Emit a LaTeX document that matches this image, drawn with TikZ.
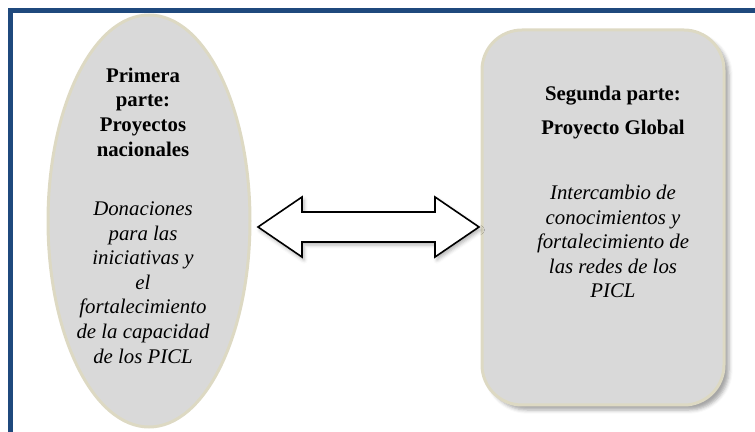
\documentclass[tikz,border=0pt]{standalone}
\usepackage{fontspec}
\setmainfont{Liberation Serif}
\usetikzlibrary{shapes.geometric,shadows.blur}
\definecolor{marco}{HTML}{1F497D}
\definecolor{relleno}{HTML}{D9D9D9}
\definecolor{borde}{HTML}{DDD9C3}
\begin{document}
\begin{tikzpicture}[
		x=0.5pt, y=-0.5pt,
		parte/.style={fill=relleno, draw=borde, line width=1.5pt},
		texto/.style={align=center, inner sep=0pt, font=\fontsize{10.4}{12.3}\selectfont}
	]
	\useasboundingbox (0,0) rectangle (755,432);
	\draw[marco, line width=2.5pt] (10.5,432) -- (10.5,11) -- (755,11);
	\node[parte, ellipse, minimum width=101pt, minimum height=206pt] (primera) at (149,221) {};
	\node[parte, rounded corners=20pt, minimum width=121pt, minimum height=187.5pt,
		blur shadow={shadow xshift=2.5pt, shadow yshift=-2.5pt, shadow opacity=35}] (segunda) at (603,217.5) {};
	% flecha doble
	\draw[fill=white, line width=0.8pt, line join=miter,
		blur shadow={shadow xshift=1pt, shadow yshift=-1.5pt, shadow opacity=30}]
		(258,227) -- (302,197) -- (302,212) -- (435,212) -- (435,197) -- (479,227)
		-- (435,257) -- (435,242) -- (302,242) -- (302,257) -- cycle;
	% primera parte
	\node[texto, font=\fontsize{10.4}{12.3}\selectfont\bfseries] (tprimera) at (143,112) {Primera\\parte:\\Proyectos\\nacionales};
	\node[texto, font=\fontsize{10.4}{12.3}\selectfont\itshape] (dprimera) at (143,282.5) {Donaciones\\para las\\iniciativas y\\el\\fortalecimiento\\de la capacidad\\de los PICL};
	% segunda parte
	\node[texto, font=\fontsize{10.4}{17}\selectfont\bfseries] (tsegunda) at (613,113) {Segunda parte:\\Proyecto Global};
	\node[texto, font=\fontsize{10.4}{12.3}\selectfont\itshape] (dsegunda) at (613,241.5) {Intercambio de\\conocimientos y\\fortalecimiento de\\las redes de los\\PICL};
\end{tikzpicture}
\end{document}
